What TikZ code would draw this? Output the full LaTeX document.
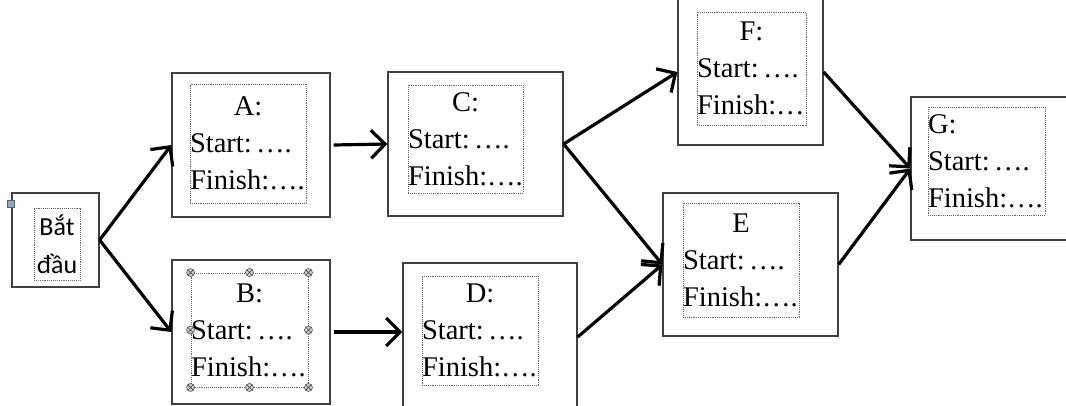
\documentclass[tikz,border=0pt]{standalone}
\usepackage{fontspec}
\setmainfont{Liberation Serif}
\newfontfamily\viet{Carlito}
\usetikzlibrary{arrows.meta}
\usetikzlibrary{shapes}
\usetikzlibrary{calc}

\definecolor{boxgray}{HTML}{404040}
\definecolor{handleblue}{HTML}{8DA6C6}

\newcommand{\midlabel}[1]{\hfill #1\hfill\null}

\tikzset{
	taskbox/.style={draw=boxgray, line width=1.3pt, rectangle, inner sep=0pt},
	innerbox/.style={draw=gray!80!black, densely dotted, line width=0.9pt, rectangle, inner sep=0pt, align=left,
		font=\fontsize{28.5}{37}\selectfont,
		execute at begin node={\spaceskip=0.15em\xspaceskip=0.15em\relax}},
	handle/.style={draw=gray!60!black, fill=gray!35, circle, inner sep=0pt, minimum size=8pt, line width=0.6pt,
		path picture={\draw[gray!50!black, line width=0.6pt] (path picture bounding box.north west) -- (path picture bounding box.south east)
			(path picture bounding box.north east) -- (path picture bounding box.south west);}},
	link/.style={line width=3.2pt, -{Straight Barb[length=14pt,width=28pt]}}
}

\begin{document}
\begin{tikzpicture}[x=1pt, y=-1pt]
		\useasboundingbox (0,0) rectangle (1066,405);

		% outer frames
		\node[taskbox, minimum width=87pt, minimum height=94pt] (start) at (55.5,240) {};
		\node[taskbox, minimum width=158pt, minimum height=144pt] (a) at (251,145) {};
		\node[taskbox, minimum width=158pt, minimum height=144pt] (b) at (251,332) {};
		\node[taskbox, minimum width=175pt, minimum height=144pt] (c) at (475.5,144) {};
		\node[taskbox, minimum width=174pt, minimum height=148pt] (d) at (490,337) {};
		\node[taskbox, minimum width=175pt, minimum height=143pt] (e) at (750.5,264.5) {};
		\node[taskbox, minimum width=145pt, minimum height=146pt] (f) at (750.5,72) {};
		\node[taskbox, minimum width=169pt, minimum height=143pt] (g) at (995.5,168.5) {};

		% dotted text frames
		\node[innerbox, minimum width=46pt, minimum height=72pt, align=center, font=\viet\fontsize{26}{38}\selectfont] (startin) at (57,244) {Bắt\\đầu};
		\node[innerbox, text width=116pt, minimum height=119pt] (ain) at (248,143.5) {\midlabel{A:}\\Start: ….\\Finish:….};
		\node[innerbox, text width=117pt, minimum height=114pt] (bin) at (249.5,330) {\midlabel{B:}\\Start: ….\\Finish:….};
		\node[innerbox, text width=115pt, minimum height=108pt] (cin) at (465.5,139) {\midlabel{C:}\\Start: ….\\Finish:….};
		\node[innerbox, text width=116pt, minimum height=109pt] (din) at (480,330.5) {\midlabel{D:}\\Start: ….\\Finish:….};
		\node[innerbox, text width=116pt, minimum height=114pt] (ein) at (741,260) {\midlabel{E}\\Start: ….\\Finish:….};
		\node[innerbox, text width=109pt, minimum height=113pt] (fin) at (751.5,68.5) {\midlabel{F:}\\Start: ….\\Finish:…};
		\node[innerbox, text width=117pt, minimum height=108pt] (gin) at (986.5,161) {G:\\Start: ….\\Finish:….};

		% selection marks
		\node[draw=handleblue!60!black, fill=handleblue, inner sep=0pt, minimum size=7pt, line width=0.6pt] (sq) at (10.5,203.5) {};
		\foreach \a [count=\i] in {north west, north, north east, east, south east, south, south west, west}
			\node[handle] (h\i) at (bin.\a) {};

		% precedence arrows
		\draw[link] (start.east) -- (a.west);
		\draw[link] (start.east) -- (b.west);
		\draw[link] ($(a.east)+(3,0)$) -- (c.west);
		\draw[link] ($(b.east)+(3,0)$) -- (b.east -| d.west);
		\draw[link] (c.east) -- (f.west);
		\draw[link] (c.east) -- (e.west);
		\draw[link] (d.east) -- (e.west);
		\draw[link] (f.east) -- (g.west);
		\draw[link] (e.east) -- (g.west);
	\end{tikzpicture}
\end{document}
